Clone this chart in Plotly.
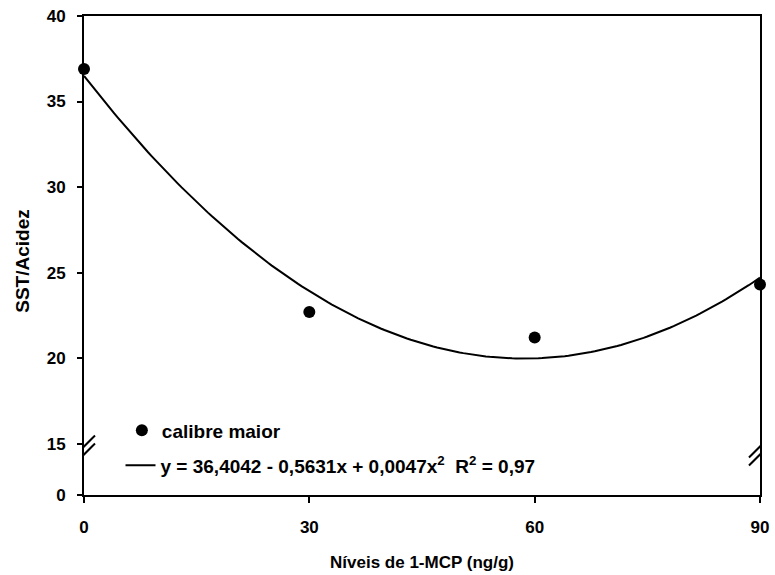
import numpy as np
import plotly.graph_objects as go

# ---- data ----
mcp_levels = [0, 30, 60, 90]                 # Níveis de 1-MCP (ng/g)
sst_acidez = [36.9, 22.7, 21.2, 24.3]        # calibre maior
x_ticks = [0, 30, 60, 90]
y_ticks = [0, 15, 20, 25, 30, 35, 40]
y_break_pos = 12.0                            # where the "0" tick sits below the axis break
legend_points = "calibre maior"
legend_fit = "y = 36,4042 - 0,5631x + 0,0047x<sup>2</sup>  R<sup>2</sup> = 0,97"

# quadratic regression of the plotted points (the curve in the chart)
fit = np.polyfit(mcp_levels, sst_acidez, 2)
curve_x = np.linspace(0, 90, 181)
curve_y = np.polyval(fit, curve_x)

y_tickvals = [y_break_pos if v == 0 else v for v in y_ticks]
y_ticktext = ["<b>%d</b>" % v for v in y_ticks]
x_ticktext = ["<b>%d</b>" % v for v in x_ticks]

FONT = "Liberation Sans"

fig = go.Figure()
fig.add_trace(go.Scatter(
    x=mcp_levels, y=sst_acidez, mode="markers",
    marker=dict(color="black", size=12),
    name="<b>%s</b>" % legend_points, legend="legend", cliponaxis=False,
))
fig.add_trace(go.Scatter(
    x=curve_x, y=curve_y, mode="lines",
    line=dict(color="black", width=2),
    name="<b>%s</b>" % legend_fit,
    legend="legend2", cliponaxis=False,
))

# axis-break marks (double slash) on left and right axes
for xa in (0, 90):
    for dy in (-4, 4):
        fig.add_shape(type="line", xref="x", yref="y",
                      xsizemode="pixel", ysizemode="pixel",
                      xanchor=xa, yanchor=14.6,
                      x0=-11, x1=11, y0=-11 + dy, y1=11 + dy,
                      line=dict(color="black", width=2))

fig.update_layout(
    width=775, height=575,
    margin=dict(l=84, r=6, t=16, b=77),
    paper_bgcolor="white", plot_bgcolor="white",
    font=dict(family=FONT, color="black", size=14),
    showlegend=True,
    legend=dict(x=0.056, y=0.135, xanchor="left", yanchor="middle",
                bgcolor="rgba(0,0,0,0)", font=dict(size=19)),
    legend2=dict(x=0.054, y=0.062, xanchor="left", yanchor="middle",
                 bgcolor="rgba(0,0,0,0)", font=dict(size=19)),
    xaxis=dict(range=[0, 90], tickvals=x_ticks, ticktext=x_ticktext,
               showgrid=False, zeroline=False,
               showline=True, mirror=True, linecolor="black", linewidth=2,
               ticks="outside", ticklen=6, tickwidth=2, tickcolor="black",
               ticklabelstandoff=10, ticklabeloverflow="allow",
               tickfont=dict(size=17, family=FONT),
               title=dict(text="<b>Níveis de 1-MCP (ng/g)</b>", standoff=20,
                          font=dict(size=17, family=FONT))),
    yaxis=dict(range=[y_break_pos, 40], tickvals=y_tickvals, ticktext=y_ticktext,
               showgrid=False, zeroline=False,
               showline=True, mirror=True, linecolor="black", linewidth=2,
               ticks="outside", ticklen=5, tickwidth=2, tickcolor="black",
               ticklabelstandoff=8, ticklabeloverflow="allow",
               tickfont=dict(size=17, family=FONT)),
    annotations=[dict(text="<b>SST/Acidez</b>", textangle=-90, xref="paper", yref="paper",
                      x=-0.091, y=0.488, xanchor="center", yanchor="middle",
                      showarrow=False, font=dict(size=19, family=FONT))],
)

fig.write_html("out.html")
